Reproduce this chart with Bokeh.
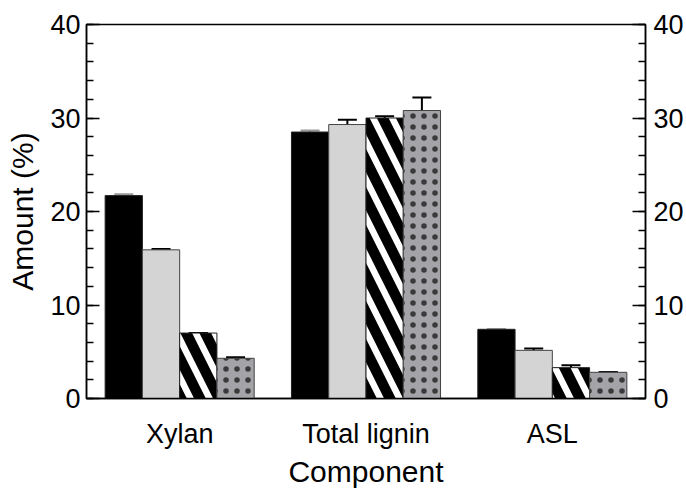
from bokeh.plotting import figure
from bokeh.models import (ColumnDataSource, FactorRange, Range1d, LinearAxis,
                          Whisker, TeeHead, SingleIntervalTicker)
from bokeh.transform import dodge
from bokeh.embed import file_html
from bokeh.resources import INLINE

categories = ["Xylan", "Total lignin", "ASL"]
s1_vals = [21.7, 28.5, 7.4]
s1_err = [0.15, 0.15, 0.0]
s2_vals = [15.9, 29.3, 5.15]
s2_err = [0.1, 0.5, 0.2]
s3_vals = [7.0, 30.0, 3.3]
s3_err = [0.0, 0.2, 0.25]
s4_vals = [4.3, 30.8, 2.8]
s4_err = [0.1, 1.4, 0.0]

FONT = "Liberation Sans"

p = figure(width=686, height=494, x_range=FactorRange(*categories, range_padding=0),
           y_range=Range1d(0, 40), output_backend="svg", toolbar_location=None,
           min_border_left=86, min_border_right=41, min_border_top=24, min_border_bottom=96)
p.xgrid.visible = False
p.ygrid.visible = False
p.outline_line_color = "black"
p.outline_line_width = 1.5
p.background_fill_color = "white"
p.border_fill_color = "white"

series = [
    (s1_vals, s1_err, -0.3, dict(fill_color="black", line_color="#222222"), "#999999"),
    (s2_vals, s2_err, -0.1, dict(fill_color="#d4d4d4", line_color="#444444"), "black"),
    (s3_vals, s3_err, 0.1, dict(fill_color="black", line_color="#222222", hatch_pattern="\\",
                               hatch_color="white", hatch_scale=38, hatch_weight=6.5), "black"),
    (s4_vals, s4_err, 0.3, dict(fill_color="#a3a3a8", line_color="#444444", hatch_pattern=".",
                               hatch_color="#3a3a3a", hatch_scale=11, hatch_weight=0.5), "black"),
]

for vals, errs, off, style, ecol in series:
    src = ColumnDataSource(dict(cat=categories, v=vals,
                                up=[a + b for a, b in zip(vals, errs)],
                                lo=[a - b for a, b in zip(vals, errs)]))
    p.vbar(x=dodge("cat", off, range=p.x_range), top="v", bottom=0, width=0.2,
           source=src, line_width=1, **style)
    w = Whisker(source=src, base=dodge("cat", off, range=p.x_range), upper="up", lower="lo",
                line_color=ecol, line_width=2,
                upper_head=TeeHead(size=19, line_color=ecol, line_width=2),
                lower_head=TeeHead(size=19, line_color=ecol, line_width=2))
    p.add_layout(w)

ticker = SingleIntervalTicker(interval=10, num_minor_ticks=5)

ya = p.yaxis[0]
ya.ticker = ticker
ya.axis_label = "Amount (%)"

ra = LinearAxis(ticker=ticker)
p.add_layout(ra, "right")

for ax in [ya, ra]:
    ax.major_tick_in = 13
    ax.major_tick_out = 0
    ax.minor_tick_in = 7
    ax.minor_tick_out = 0
    ax.major_tick_line_width = 1.5
    ax.minor_tick_line_width = 1.5
    ax.axis_line_width = 1.5
    ax.major_label_text_font = FONT
    ax.major_label_text_font_size = "27px"
    ax.major_label_text_color = "black"
    ax.major_label_standoff = 6
    ax.axis_label_text_font = FONT
    ax.axis_label_text_font_size = "30px"
    ax.axis_label_text_color = "black"
    ax.axis_label_text_font_style = "normal"
    ax.axis_label_standoff = 8
ra.major_label_standoff = 8

xa = p.xaxis[0]
xa.axis_label = "Component"
xa.major_tick_line_color = None
xa.minor_tick_line_color = None
xa.axis_line_width = 1.5
xa.major_label_text_font = FONT
xa.major_label_text_font_size = "27px"
xa.major_label_text_color = "black"
xa.major_label_standoff = 14
xa.axis_label_text_font = FONT
xa.axis_label_text_font_size = "30px"
xa.axis_label_text_color = "black"
xa.axis_label_text_font_style = "normal"
xa.axis_label_standoff = 3

open("out.html", "w").write(file_html(p, INLINE))
